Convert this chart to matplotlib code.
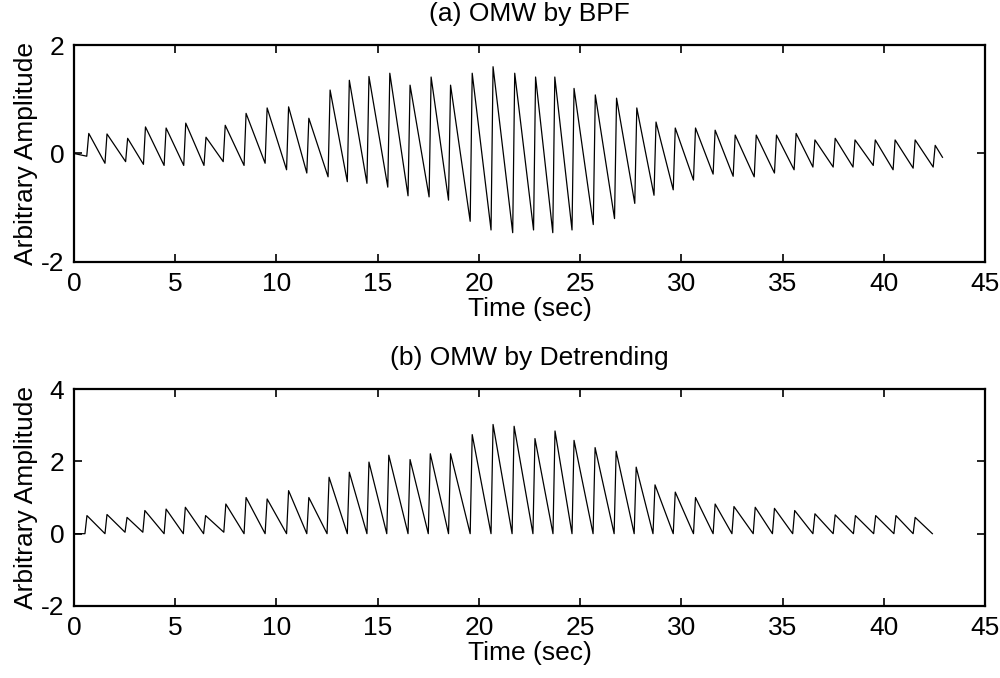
import numpy as np
import matplotlib
matplotlib.use('Agg')
import matplotlib.pyplot as plt

# (a) OMW by BPF : beat onset times (s), peak values, trough value just before each onset
bpf_onsets = [0.63, 1.53, 2.55, 3.43, 4.45, 5.42, 6.42, 7.37, 8.4, 9.44,
              10.5, 11.5, 12.55, 13.5, 14.47, 15.5, 16.5, 17.54, 18.5, 19.57,
              20.6, 21.67, 22.7, 23.65, 24.6, 25.65, 26.7, 27.7, 28.65, 29.6,
              30.6, 31.57, 32.56, 33.6, 34.6, 35.57, 36.5, 37.5, 38.48, 39.48,
              40.46, 41.45, 42.44]
bpf_peaks = [0.37, 0.36, 0.28, 0.49, 0.47, 0.56, 0.3, 0.52, 0.74, 0.84,
             0.86, 0.65, 1.17, 1.35, 1.42, 1.48, 1.26, 1.41, 1.26, 1.48,
             1.6, 1.48, 1.41, 1.41, 1.2, 1.08, 1.02, 0.84, 0.58, 0.47,
             0.47, 0.43, 0.34, 0.34, 0.34, 0.37, 0.25, 0.28, 0.25, 0.25,
             0.25, 0.25, 0.15]
bpf_troughs = [-0.05, -0.18, -0.15, -0.2, -0.22, -0.22, -0.22, -0.15, -0.22, -0.18,
               -0.3, -0.36, -0.43, -0.52, -0.55, -0.62, -0.78, -0.8, -0.86, -1.25,
               -1.41, -1.46, -1.41, -1.46, -1.41, -1.31, -1.2, -0.92, -0.77, -0.67,
               -0.49, -0.38, -0.42, -0.43, -0.36, -0.3, -0.25, -0.25, -0.25, -0.22,
               -0.3, -0.27, -0.25]
bpf_start = (0.0, 0.0)
bpf_end = (42.9, -0.07)

# (b) OMW by Detrending
det_onsets = [0.54, 1.53, 2.52, 3.4, 4.45, 5.4, 6.4, 7.4, 8.4, 9.44,
              10.5, 11.5, 12.5, 13.5, 14.47, 15.45, 16.5, 17.5, 18.5, 19.57,
              20.6, 21.64, 22.67, 23.66, 24.6, 25.64, 26.68, 27.67, 28.6, 29.6,
              30.6, 31.57, 32.5, 33.55, 34.5, 35.5, 36.5, 37.5, 38.5, 39.5,
              40.5, 41.45]
det_peaks = [0.5, 0.53, 0.45, 0.64, 0.68, 0.73, 0.5, 0.82, 1.0, 0.96,
             1.19, 1.0, 1.56, 1.7, 1.98, 2.17, 2.05, 2.21, 2.21, 2.74,
             3.02, 2.97, 2.63, 2.84, 2.58, 2.38, 2.28, 1.84, 1.35, 1.15,
             1.0, 0.82, 0.75, 0.73, 0.7, 0.64, 0.55, 0.52, 0.5, 0.5,
             0.5, 0.45]
det_troughs = [0.0, 0.0, 0.04, 0.04, 0.0, 0.0, 0.0, 0.04, 0.0, 0.0,
               0.0, 0.0, 0.0, 0.0, 0.0, 0.0, 0.0, 0.0, 0.0, 0.0,
               0.0, 0.0, 0.0, 0.0, 0.0, 0.0, 0.0, 0.0, 0.0, 0.0,
               0.0, 0.0, 0.0, 0.0, 0.0, 0.0, 0.0, 0.0, 0.0, 0.0,
               0.0, 0.0]
det_start = (0.0, 0.0)
det_end = (42.4, 0.0)

RISE = 0.1  # upstroke duration (s)
FS = 19


def beat_line(onsets, peaks, troughs, start, end):
    # trough -> peak -> decay to next trough
    t = [start[0]]
    y = [start[1]]
    for t0, pk, tr in zip(onsets, peaks, troughs):
        t += [t0, t0 + RISE]
        y += [tr, pk]
    t.append(end[0])
    y.append(end[1])
    return np.array(t), np.array(y)


plt.rcParams['font.family'] = ['Liberation Sans', 'DejaVu Sans']
plt.rcParams['axes.unicode_minus'] = False

fig = plt.figure(figsize=(10, 6.78), dpi=100)
ax1 = fig.add_axes([0.074, 0.6136, 0.911, 0.32])
ax2 = fig.add_axes([0.074, 0.1062, 0.911, 0.32])

panels = [
    (ax1, beat_line(bpf_onsets, bpf_peaks, bpf_troughs, bpf_start, bpf_end),
     '(a) OMW by BPF', (-2, 2), [-2, 0, 2]),
    (ax2, beat_line(det_onsets, det_peaks, det_troughs, det_start, det_end),
     '(b) OMW by Detrending', (-2, 4), [-2, 0, 2, 4]),
]

for ax, (t, y), title, ylim, yticks in panels:
    ax.plot(t, y, color='black', linewidth=0.9)
    ax.set_xlim(0, 45)
    ax.set_ylim(*ylim)
    ax.set_xticks(range(0, 46, 5))
    ax.set_yticks(yticks)
    ax.tick_params(direction='in', length=6, width=1.2, top=True, right=True,
                   labelsize=FS, pad=7)
    for s in ax.spines.values():
        s.set_linewidth(1.6)
    ax.set_title(title, fontsize=FS, pad=17)
    ax.set_xlabel('Time (sec)', fontsize=FS, labelpad=1)
    ax.set_ylabel('Arbitrary Amplitude', fontsize=FS, labelpad=2)

fig.savefig('out.png', dpi=100)
